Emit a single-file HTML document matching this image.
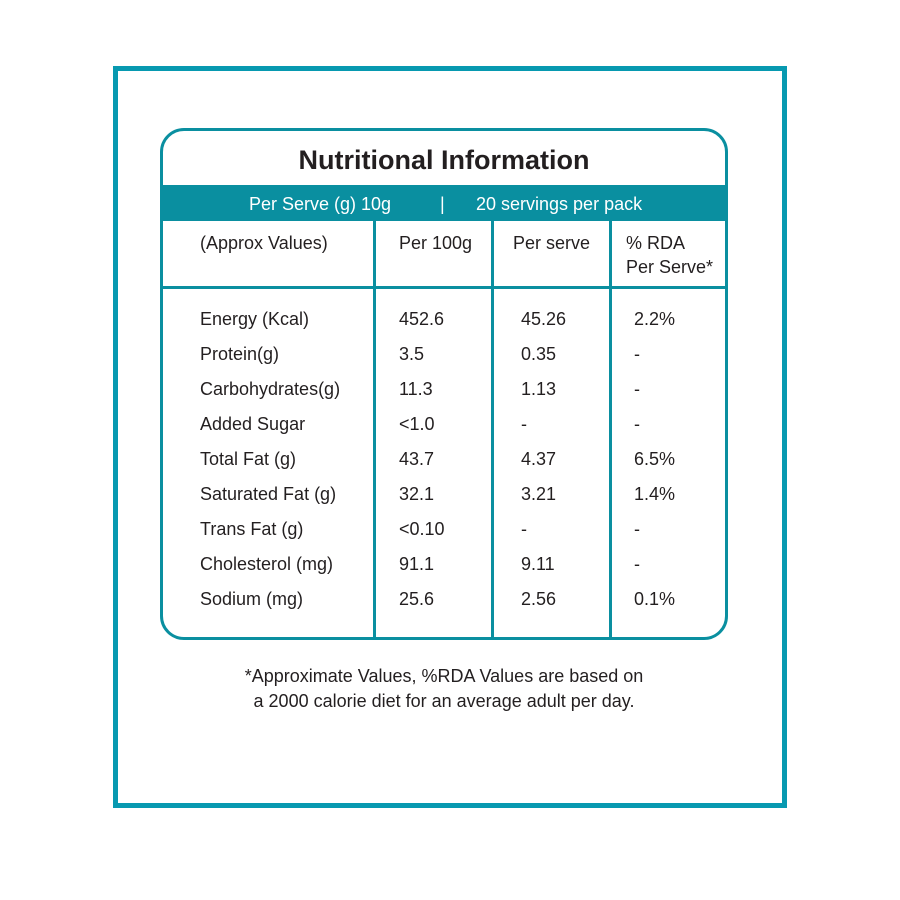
<!DOCTYPE html>
<html><head><style>
body{margin:0;width:900px;height:900px;background:#fff;position:relative;font-family:"Liberation Sans",sans-serif;color:#231f20;overflow:hidden}
.a{position:absolute}
.t{position:absolute;font-size:18px;white-space:nowrap}
</style></head><body>
<div class="a" style="left:113px;top:66px;width:664px;height:732px;border:5px solid #0799b0"></div>
<div class="a" style="left:160px;top:128px;width:562px;height:506px;border:3px solid #0a8fa0;border-radius:24px"></div>
<div class="a" style="left:163px;top:185px;width:562px;height:36px;background:#0a8fa0"></div>
<div class="a" style="left:163px;top:286px;width:562px;height:3px;background:#0a8fa0"></div>
<div class="a" style="left:373px;top:221px;width:3px;height:416px;background:#0a8fa0"></div>
<div class="a" style="left:491px;top:221px;width:3px;height:416px;background:#0a8fa0"></div>
<div class="a" style="left:609px;top:221px;width:3px;height:416px;background:#0a8fa0"></div>
<div class="t" style="left:160px;width:568px;text-align:center;top:145px;font-size:27px;font-weight:bold">Nutritional Information</div>
<div class="t" style="left:249px;top:194px;color:#fff">Per Serve (g) 10g</div>
<div class="t" style="left:440px;top:194px;color:#fff">|</div>
<div class="t" style="left:476px;top:194px;color:#fff">20 servings per pack</div>
<div class="t" style="left:200px;top:233px">(Approx Values)</div>
<div class="t" style="left:399px;top:233px">Per 100g</div>
<div class="t" style="left:513px;top:233px">Per serve</div>
<div class="t" style="left:626px;top:233px">% RDA</div>
<div class="t" style="left:626px;top:257px">Per Serve*</div>
<div class="t" style="left:200px;top:302px;line-height:35px">Energy (Kcal)<br>Protein(g)<br>Carbohydrates(g)<br>Added Sugar<br>Total Fat (g)<br>Saturated Fat (g)<br>Trans Fat (g)<br>Cholesterol (mg)<br>Sodium (mg)</div>
<div class="t" style="left:399px;top:302px;line-height:35px">452.6<br>3.5<br>11.3<br>&lt;1.0<br>43.7<br>32.1<br>&lt;0.10<br>91.1<br>25.6</div>
<div class="t" style="left:521px;top:302px;line-height:35px">45.26<br>0.35<br>1.13<br>-<br>4.37<br>3.21<br>-<br>9.11<br>2.56</div>
<div class="t" style="left:634px;top:302px;line-height:35px">2.2%<br>-<br>-<br>-<br>6.5%<br>1.4%<br>-<br>-<br>0.1%</div>
<div class="t" style="left:160px;width:568px;text-align:center;top:664px;font-size:18px;line-height:25px">*Approximate Values, %RDA Values are based on<br>a 2000 calorie diet for an average adult per day.</div>
</body></html>
